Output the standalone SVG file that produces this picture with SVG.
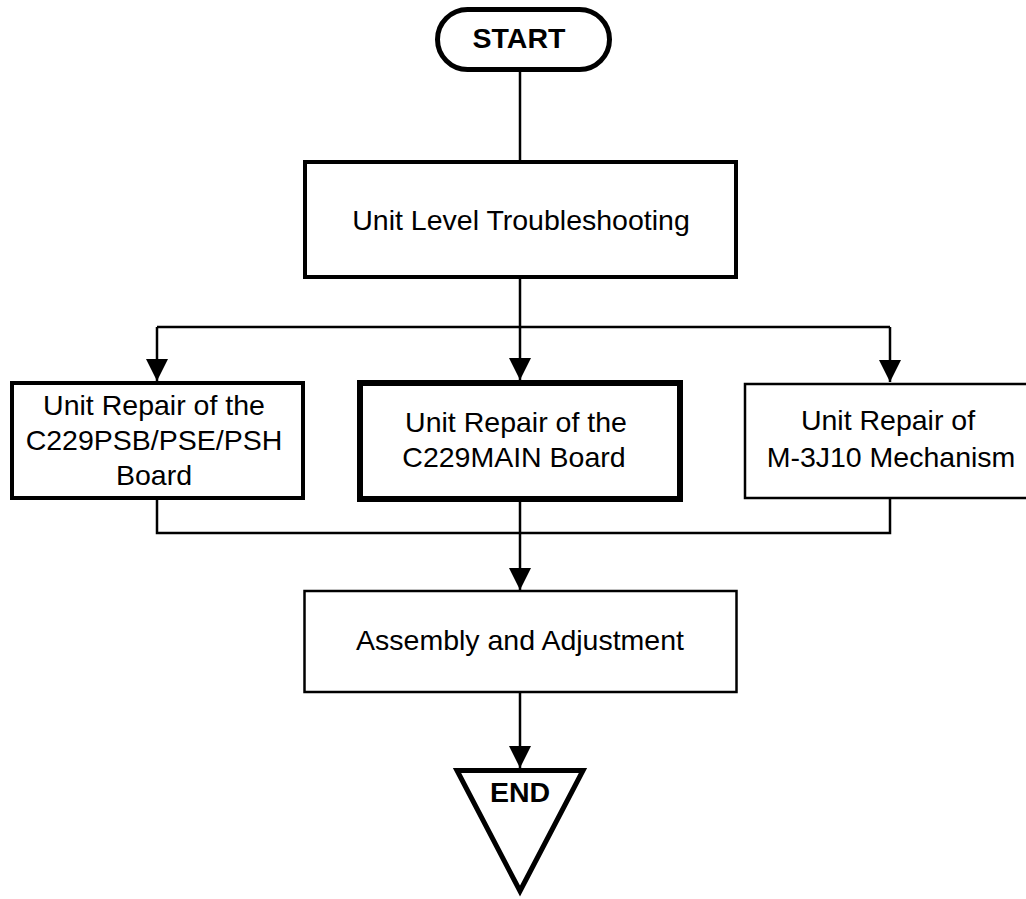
<svg xmlns="http://www.w3.org/2000/svg" width="1026" height="899" viewBox="0 0 1026 899">
<defs>
<style>
.lbl{font-family:"Liberation Sans",Arial,sans-serif;font-size:28.5px;fill:#000;text-anchor:middle}
.bold{font-weight:bold}
.box{fill:#fff;stroke:#000}
.con{fill:none;stroke:#000;stroke-width:2.5}
</style>
<marker id="arr" markerUnits="userSpaceOnUse" markerWidth="24" markerHeight="22" refX="22" refY="11" orient="auto" viewBox="0 0 24 22">
<path d="M0,0 L22,11 L0,22 Z" fill="#000"/>
</marker>
</defs>
<rect width="1026" height="899" fill="#fff"/>
<g id="connectors">
<line class="con" x1="520" y1="72" x2="520" y2="160"/>
<polyline class="con" points="520,279 520,327"/>
<polyline class="con" points="157,327 890,327"/>
<line class="con" x1="157" y1="327" x2="157" y2="381" marker-end="url(#arr)"/>
<line class="con" x1="520" y1="327" x2="520" y2="380" marker-end="url(#arr)"/>
<line class="con" x1="890" y1="327" x2="890" y2="382" marker-end="url(#arr)"/>
<polyline class="con" points="157,500 157,533 890,533 890,499"/>
<line class="con" x1="520" y1="502" x2="520" y2="590" marker-end="url(#arr)"/>
<line class="con" x1="520" y1="693" x2="520" y2="768" marker-end="url(#arr)"/>
</g>
<g id="start">
<rect class="box" x="437.5" y="9.5" width="172" height="60" rx="30" ry="30" stroke-width="5"/>
<text class="lbl bold" x="519" y="48" font-size="30">START</text>
</g>
<g id="troubleshoot">
<rect class="box" x="305" y="162" width="431" height="115" stroke-width="4"/>
<text class="lbl" x="521" y="230">Unit Level Troubleshooting</text>
</g>
<g id="psb">
<rect class="box" x="12" y="383" width="291" height="115" stroke-width="4"/>
<text class="lbl" x="154" y="415">Unit Repair of the</text>
<text class="lbl" x="154" y="450">C229PSB/PSE/PSH</text>
<text class="lbl" x="154" y="485">Board</text>
</g>
<g id="main">
<rect class="box" x="360" y="383" width="320" height="116" stroke-width="6"/>
<text class="lbl" x="516" y="432">Unit Repair of the</text>
<text class="lbl" x="514" y="467">C229MAIN Board</text>
</g>
<g id="mech">
<rect class="box" x="745" y="384" width="292" height="114" stroke-width="2.5"/>
<text class="lbl" x="888" y="430">Unit Repair of</text>
<text class="lbl" x="891" y="467">M-3J10 Mechanism</text>
</g>
<g id="assembly">
<rect class="box" x="304.5" y="591" width="432" height="101" stroke-width="2.5"/>
<text class="lbl" x="520" y="650">Assembly and Adjustment</text>
</g>
<g id="end">
<polygon class="box" points="457,770.5 583,770.5 520,891" stroke-width="5" stroke-linejoin="miter"/>
<text class="lbl bold" x="520" y="802" font-size="29.5">END</text>
</g>
</svg>
